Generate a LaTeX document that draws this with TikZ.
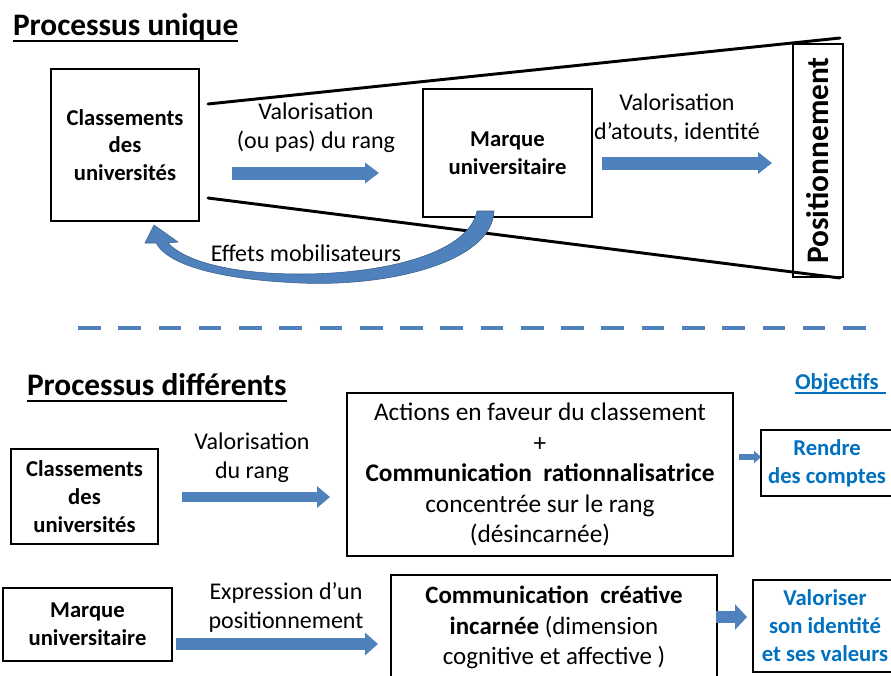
\documentclass[tikz,border=0pt]{standalone}
\usepackage{fontspec}
\setmainfont{Carlito}
\usetikzlibrary{arrows.meta}
\definecolor{ablue}{HTML}{4F81BD}
\definecolor{aborder}{HTML}{385D8A}
\definecolor{tblue}{HTML}{0070C0}
\begin{document}
\begin{tikzpicture}[x=0.75pt,y=-0.75pt,
  box/.style={draw, line width=1.4pt, inner sep=0pt, outer sep=0pt, align=center},
  btxt/.style={font=\fontsize{17}{20.8}\selectfont\bfseries},
  bluetxt/.style={font=\fontsize{17}{21}\selectfont\bfseries, text=tblue},
  lbl/.style={font=\fontsize{18}{21.8}\selectfont, align=center, inner sep=0pt},
  title/.style={font=\fontsize{23.5}{27}\selectfont\bfseries, inner sep=0pt, outer sep=0pt},
  funnel/.style={line width=2.2pt, line cap=round},
  barrow/.style n args={3}{draw=ablue, line width=#1, -{Triangle[length=#3, width=#2]}},
]
\useasboundingbox (0,0) rectangle (891,675);
\fill[white] (0,0) rectangle (891,675);

% ---------- Processus unique ----------
\node[title, anchor=base west] (t1) at (13,35) {Processus unique};
\draw[line width=1.8pt] ([yshift=-4.5pt]t1.base west) -- ([yshift=-4.5pt]t1.base east);

\node[box, btxt, minimum width=111pt, minimum height=114pt] (c1) at (125,145) {Classements\\des\\universités};
\node[box, btxt, minimum width=126.75pt, minimum height=96pt] (m1) at (507.5,153) {Marque\\universitaire};
\node[box, rotate=90, minimum width=174.75pt, minimum height=37.5pt,
      font=\fontsize{23.5}{27}\selectfont\bfseries] (pos) at (818,160.5) {Positionnement};

\coordinate (fu1) at (208,104); \coordinate (fu2) at (840,38);
\coordinate (fl1) at (208,198); \coordinate (fl2) at (840,278);
\draw[funnel] (fu1) -- (fu2);
\draw[funnel] (fl1) -- (fl2);

\coordinate (a1s) at (232,173); \coordinate (a1e) at (379,173);
\draw[barrow={9.75pt}{15pt}{10.5pt}] (a1s) -- (a1e);
\node[lbl] (l1) at (316,127.5) {Valorisation\\(ou pas) du rang};

\coordinate (a2s) at (602,163); \coordinate (a2e) at (772,163);
\draw[barrow={9.75pt}{15.75pt}{10.5pt}] (a2s) -- (a2e);
\node[lbl] (l2) at (677,118.5) {Valorisation\\d’atouts, identité};

% curved arrow (Effets mobilisateurs)
\fill[ablue, draw=aborder, line width=0.4pt] (477,211) -- (494,211)
  .. controls (492,262) and (390,287) .. (300,283)
  .. controls (230,280) and (170,268) .. (156,243)
  -- (145,243) -- (154,225) -- (178,242) -- (168,243)
  .. controls (188,264) and (240,274) .. (300,274)
  .. controls (380,274) and (468,255) .. (477,211) -- cycle;
\node[lbl] (l3) at (306,253) {Effets mobilisateurs};

% dashed separator
\coordinate (ds) at (78,328); \coordinate (de) at (870,328);
\draw[ablue, line width=3.4pt, dash pattern=on 17pt off 13.2pt] (ds) -- (de);

% ---------- Processus différents ----------
\node[title, anchor=base west] (t2) at (27,395) {Processus différents};
\draw[line width=1.8pt] ([yshift=-4.5pt]t2.base west) -- ([yshift=-4.5pt]t2.base east);

\node[bluetxt, anchor=base west, inner sep=0pt] (obj) at (795,389) {Objectifs};
\draw[tblue, line width=1.3pt] ([yshift=-3pt]obj.base west) -- ([xshift=5pt,yshift=-3pt]obj.base east);

\node[box, btxt, minimum width=110.25pt, minimum height=71.25pt] (c2) at (84.5,496.5) {Classements\\des\\universités};
\coordinate (a3s) at (182,497); \coordinate (a3e) at (330,497);
\draw[barrow={7.9pt}{15.75pt}{9.75pt}] (a3s) -- (a3e);
\node[lbl] (l4) at (252,458) {Valorisation\\du rang};

\node[box, font=\fontsize{19}{22.9}\selectfont, minimum width=289.5pt, minimum height=122.25pt] (act) at (540,474.5)
  {Actions en faveur du classement\\+\\\textbf{Communication\hspace{0.45em}rationnalisatrice}\\concentrée sur le rang\\(désincarnée)};

\coordinate (a6s) at (739,457); \coordinate (a6e) at (761,457);
\draw[barrow={3.8pt}{9pt}{5.25pt}] (a6s) -- (a6e);
\node[box, bluetxt, minimum width=99pt, minimum height=49.5pt] (ren) at (827,463) {Rendre\\des comptes};

\node[box, btxt, minimum width=126.75pt, minimum height=54.75pt] (m2) at (87.5,624.5) {Marque\\universitaire};
\coordinate (a4s) at (176,644); \coordinate (a4e) at (378,644);
\draw[barrow={9pt}{16.5pt}{9.75pt}] (a4s) -- (a4e);
\node[lbl] (l5) at (286,607) {Expression d’un\\positionnement};

\node[box, font=\fontsize{18.7}{23}\selectfont, minimum width=244.5pt, minimum height=78.75pt] (cc) at (554,627.5)
  {\textbf{Communication\hspace{0.45em}créative}\\\textbf{incarnée} (dimension\\cognitive et affective )};

\coordinate (a5s) at (716,617); \coordinate (a5e) at (747,617);
\draw[barrow={9pt}{18.75pt}{9pt}] (a5s) -- (a5e);
\node[box, bluetxt, minimum width=108pt, minimum height=69pt] (val) at (825,626) {Valoriser\\son identité\\et ses valeurs};
\end{tikzpicture}
\end{document}
